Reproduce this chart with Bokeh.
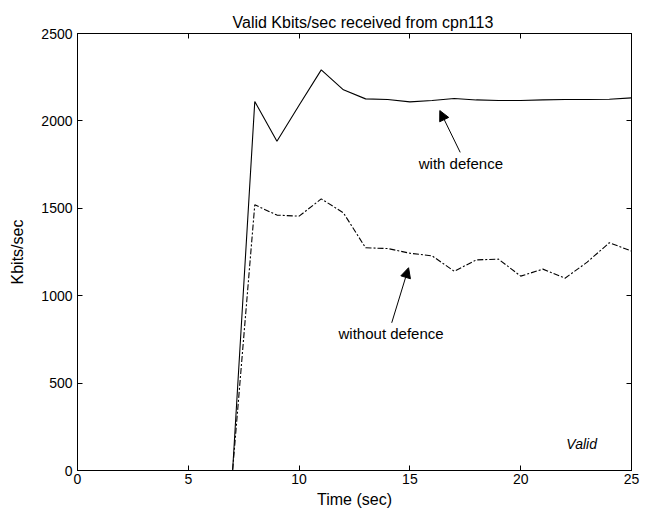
from bokeh.plotting import figure
from bokeh.models import (FixedTicker, LinearAxis, Range1d, Label, Arrow, NormalHead)
from bokeh.embed import file_html
from bokeh.resources import INLINE

# Data
time_with = [0, 7, 8, 9, 10, 11, 12, 13, 14, 15, 16, 17, 18, 19, 20, 21, 22, 23, 24, 25]
kbits_with = [0, 0, 2111, 1884, 2090, 2292, 2178, 2126, 2122, 2109, 2117, 2128, 2120,
              2117, 2117, 2120, 2122, 2122, 2124, 2132]
time_without = [0, 7, 8, 9, 10, 11, 12, 13, 14, 15, 16, 17, 18, 19, 20, 21, 22, 23, 24, 25]
kbits_without = [0, 0, 1520, 1461, 1455, 1554, 1474, 1274, 1270, 1243, 1228, 1140, 1205,
                 1209, 1112, 1152, 1100, 1192, 1303, 1255]
x_ticks = [0, 5, 10, 15, 20, 25]
y_ticks = [0, 500, 1000, 1500, 2000, 2500]

FONT = "Liberation Sans"

p = figure(width=667, height=517, output_backend="svg", toolbar_location=None,
           x_range=Range1d(0, 25), y_range=Range1d(0, 2500),
           min_border_left=77, min_border_right=36, min_border_top=33, min_border_bottom=47,
           title="Valid Kbits/sec received from cpn113")
p.title.align = "left"
p.title.offset = 155
p.title.text_font = FONT
p.title.text_font_size = "16px"
p.title.text_font_style = "normal"
p.title.text_color = "black"
p.title.standoff = 5

p.xgrid.visible = False
p.ygrid.visible = False
p.outline_line_color = "black"
p.outline_line_width = 1
p.background_fill_color = "white"
p.border_fill_color = "white"

for ax in (p.xaxis[0], p.yaxis[0]):
    ax.major_tick_in = 5
    ax.major_tick_out = 0
    ax.minor_tick_in = 0
    ax.minor_tick_out = 0
    ax.axis_line_color = "black"
    ax.major_tick_line_color = "black"
    ax.major_label_text_font = FONT
    ax.major_label_text_font_size = "14px"
    ax.major_label_text_color = "black"
    ax.axis_label_text_font = FONT
    ax.axis_label_text_font_size = "16px"
    ax.axis_label_text_font_style = "normal"
    ax.axis_label_text_color = "black"

p.xaxis[0].ticker = FixedTicker(ticks=x_ticks)
p.yaxis[0].ticker = FixedTicker(ticks=y_ticks)
p.xaxis[0].axis_label = "Time (sec)"
p.yaxis[0].axis_label = "Kbits/sec"
p.xaxis[0].major_label_standoff = 3
p.yaxis[0].major_label_standoff = 5
p.xaxis[0].axis_label_standoff = 4
p.yaxis[0].axis_label_standoff = 12

# box ticks on top and right
for loc, ticks in (("above", x_ticks), ("right", y_ticks)):
    a = LinearAxis(ticker=FixedTicker(ticks=ticks))
    a.major_tick_in = 5
    a.major_tick_out = 0
    a.minor_tick_in = 0
    a.minor_tick_out = 0
    a.major_label_text_font_size = "0px"
    a.major_label_text_alpha = 0
    a.axis_line_color = "black"
    p.add_layout(a, loc)

p.line(time_with, kbits_with, line_color="black", line_width=1.1)
p.line(time_without, kbits_without, line_color="black", line_width=1.1, line_dash="6 2 2 2")

p.add_layout(Label(x=17.3, y=1756, text="with defence", text_align="center",
                   text_baseline="middle", text_font=FONT, text_font_size="15px",
                   text_color="black"))
p.add_layout(Arrow(x_start=17.27, y_start=1820, x_end=16.35, y_end=2059,
                   line_color="black", line_width=1,
                   end=NormalHead(size=10, fill_color="black", line_color="black")))

p.add_layout(Label(x=14.15, y=784, text="without defence", text_align="center",
                   text_baseline="middle", text_font=FONT, text_font_size="15px",
                   text_color="black"))
p.add_layout(Arrow(x_start=14.18, y_start=845, x_end=14.94, y_end=1160,
                   line_color="black", line_width=1,
                   end=NormalHead(size=10, fill_color="black", line_color="black")))

p.add_layout(Label(x=22.75, y=154, text="Valid", text_align="center",
                   text_baseline="middle", text_font=FONT, text_font_size="14px",
                   text_font_style="italic", text_color="black"))

open("out.html", "w").write(file_html(p, INLINE))
